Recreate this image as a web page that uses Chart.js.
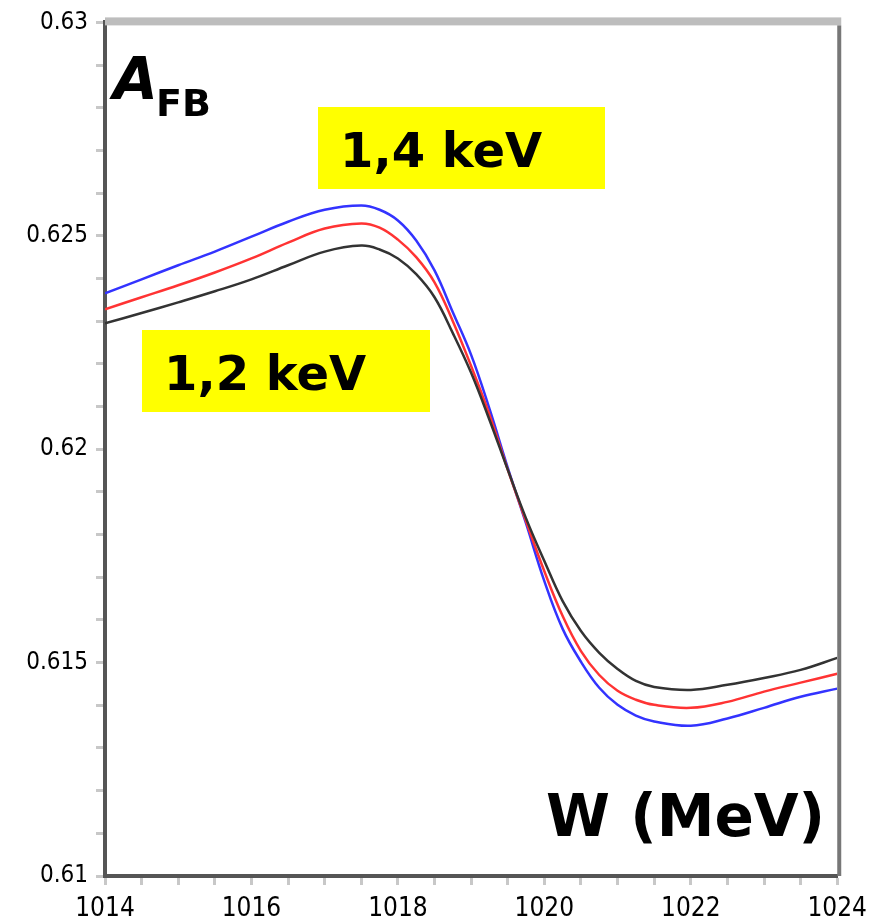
<!DOCTYPE html>
<html>
<head>
<meta charset="utf-8">
<script src="https://cdn.jsdelivr.net/npm/chart.js@4/dist/chart.umd.min.js"></script>
<style>
  html, body { margin: 0; padding: 0; background: #fff; }
  #wrap { width: 876px; height: 920px; position: relative; }
</style>
</head>
<body>
<div id="wrap"><canvas id="grafico" width="876" height="920"></canvas></div>
<script>
// W in MeV
const energias = [1014, 1014.5, 1015, 1015.5, 1016, 1016.5, 1017, 1017.5, 1017.75, 1018, 1018.25, 1018.5, 1018.75,
  1019, 1019.25, 1019.5, 1019.75, 1020, 1020.25, 1020.5, 1020.75, 1021, 1021.25, 1021.5, 1022, 1022.5, 1023, 1023.5, 1024];

// A_FB, three curves
const afbAzul = [0.62365, 0.62398, 0.62431, 0.62463, 0.62498, 0.62533, 0.62561, 0.62571, 0.62561, 0.62536, 0.62489, 0.62419, 0.62321,
  0.62221, 0.62095, 0.61957, 0.61826, 0.61691, 0.61579, 0.61502, 0.61441, 0.61401, 0.61376, 0.61362, 0.61352, 0.61369, 0.61394, 0.61420, 0.61439];
const afbVermelho = [0.62328, 0.62356, 0.62384, 0.62414, 0.62447, 0.62484, 0.62517, 0.62529, 0.62519, 0.62491, 0.62450, 0.62391, 0.62300,
  0.62195, 0.62081, 0.61952, 0.61831, 0.61714, 0.61609, 0.61527, 0.61471, 0.61434, 0.61413, 0.61401, 0.61394, 0.61408, 0.61432, 0.61453, 0.61474];
const afbPreto = [0.62295, 0.62319, 0.62344, 0.62370, 0.62398, 0.62431, 0.62463, 0.62477, 0.62468, 0.62447, 0.62410, 0.62356, 0.62272,
  0.62179, 0.62069, 0.61952, 0.61838, 0.61738, 0.61644, 0.61574, 0.61523, 0.61485, 0.61457, 0.61443, 0.61436, 0.61448, 0.61464, 0.61483, 0.61511];

const xMin = 1014, xMax = 1024;
const yMin = 0.61, yMax = 0.63;
const yLabelsMajor = [0.61, 0.615, 0.62, 0.625, 0.63];
const xLabelsMajor = [1014, 1016, 1018, 1020, 1022, 1024];

function pontos(ys) {
  return energias.map((x, i) => ({ x: x, y: ys[i] }));
}

const fonteTicks = 'DejaVu Sans Condensed, Liberation Sans Narrow, sans-serif';

const textos = {
  id: 'textos',
  afterDraw(chart) {
    const ctx = chart.ctx;
    const area = chart.chartArea;
    ctx.save();
    // frame: top and right
    ctx.fillStyle = '#bdbdbd';
    ctx.fillRect(area.left, area.top - 5, area.right - area.left + 4, 8);
    ctx.fillStyle = '#777';
    ctx.fillRect(area.right, area.top + 3, 4, area.bottom - area.top - 3);

    // yellow labels
    ctx.fillStyle = '#ffff00';
    ctx.fillRect(318, 107, 287, 82);
    ctx.fillRect(142, 330, 288, 82);

    ctx.fillStyle = '#000';
    ctx.textBaseline = 'alphabetic';
    ctx.font = 'bold 48px "DejaVu Sans", sans-serif';
    ctx.fillText('1,4 keV', 340, 167);
    ctx.fillText('1,2 keV', 164, 390);

    ctx.font = 'italic bold 58px "DejaVu Sans", sans-serif';
    ctx.fillText('A', 113, 99);
    ctx.font = 'bold 38px "DejaVu Sans", sans-serif';
    ctx.fillText('FB', 156, 116);

    ctx.font = 'bold 58px "DejaVu Sans", sans-serif';
    ctx.fillText('W (MeV)', 546, 836);
    ctx.restore();
  }
};

const grafico = new Chart(document.getElementById('grafico').getContext('2d'), {
  type: 'line',
  data: {
    datasets: [
      { label: 'preto', data: pontos(afbPreto), borderColor: '#333333', borderWidth: 2.5 },
      { label: 'vermelho', data: pontos(afbVermelho), borderColor: '#ff3333', borderWidth: 2.5 },
      { label: 'azul', data: pontos(afbAzul), borderColor: '#3333ff', borderWidth: 2.5 }
    ]
  },
  options: {
    responsive: false,
    animation: false,
    layout: { padding: { top: 19, right: 36, left: 0, bottom: 0 } },
    elements: {
      point: { radius: 0 },
      line: { tension: 0.4, fill: false }
    },
    plugins: { legend: { display: false }, tooltip: { enabled: false } },
    scales: {
      x: {
        type: 'linear',
        min: xMin,
        max: xMax,
        afterFit(scale) { scale.height = 44; },
        border: { display: true, color: '#555', width: 4 },
        grid: { drawOnChartArea: false, drawTicks: true, tickLength: 9, tickWidth: 3, tickColor: '#c8c8c8' },
        ticks: {
          stepSize: 0.5,
          autoSkip: false,
          maxRotation: 0,
          padding: 9,
          color: '#000',
          font: { family: fonteTicks, size: 26 },
          callback: v => xLabelsMajor.includes(v) ? String(v) : ''
        }
      },
      y: {
        type: 'linear',
        min: yMin,
        max: yMax,
        afterFit(scale) { scale.width = 105; },
        border: { display: true, color: '#555', width: 4 },
        grid: { drawOnChartArea: false, drawTicks: true, tickLength: 9, tickWidth: 3, tickColor: '#c8c8c8' },
        ticks: {
          stepSize: 0.001,
          autoSkip: false,
          padding: 8,
          color: '#000',
          font: { family: fonteTicks, size: 24 },
          callback: v => {
            const r = Math.round(v * 1000) / 1000;
            return yLabelsMajor.some(m => Math.abs(m - r) < 1e-9) ? String(r) : '';
          }
        }
      }
    }
  },
  plugins: [textos]
});
</script>
</body>
</html>
